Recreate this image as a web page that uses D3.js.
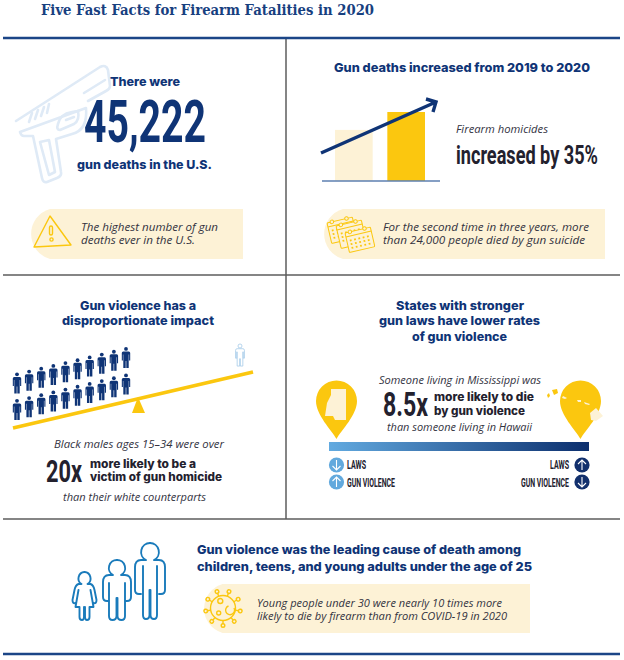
<!DOCTYPE html>
<html>
<head>
<meta charset="utf-8">
<script src="https://cdn.jsdelivr.net/npm/d3@7"></script>
<style>
  html, body { margin: 0; padding: 0; background: #fff; }
  svg { display: block; }
</style>
</head>
<body>
<div id="output"></div>
<script>
// values
const years = ["2019", "2020"];
const homicideIndex = [100, 135];      // 2020 is 35% above 2019
const blackMaleRows = [10, 10];        // people stacked on the low end of the seesaw
const whiteMales = [1];
const rateScale = ["Mississippi", "Hawaii"];
const rateArrows = [["down", "up"], ["up", "down"]];
const rateLabels = ["LAWS", "GUN VIOLENCE"];

const navy = "#0f3476", yellow = "#fbc70f", cream = "#fdf2d6", ink = "#23212e", grey = "#5c5c5c";
const head = "Inter, 'Open Sans', sans-serif";
const body = "'Open Sans', 'Noto Sans', sans-serif";
const cond = "Roboto, sans-serif";

const svg = d3.select("#output").append("svg")
    .attr("width", 624)
    .attr("height", 660)
    .attr("viewBox", [0, 0, 624, 660]);

// every label is fitted to the width it has in the reference
function label(x, y, str, w, opt) {
    return svg.append("text")
        .attr("x", x)
        .attr("y", y)
        .attr("textLength", w)
        .attr("lengthAdjust", "spacingAndGlyphs")
        .attr("font-family", opt.font)
        .attr("font-size", opt.size)
        .attr("font-weight", opt.weight || 400)
        .attr("font-style", opt.italic ? "italic" : "normal")
        .attr("fill", opt.fill || ink)
        .text(str);
}
const heading = (x, y, s, w) => label(x, y, s, w, {font: head, size: 12.3, weight: 800, fill: navy});
const boldInk = (x, y, s, w) => label(x, y, s, w, {font: head, size: 11.3, weight: 800, fill: ink});
const note = (x, y, s, w) => label(x, y, s, w, {font: body, size: 10.5, italic: true, fill: "#33333f"});
const big = (x, y, s, w, size, fill) => label(x, y, s, w, {font: cond, size: size, weight: 700, fill: fill || ink});

function callout(x, y, w, h) {
    const r = h / 2 + 1;
    svg.append("path")
        .attr("fill", cream)
        .attr("d", `M${x + r},${y}H${x + w}V${y + h}H${x + r}A${r},${r} 0 0 1 ${x + r},${y}Z`);
}

// frame
svg.append("g").attr("stroke", grey).attr("stroke-width", 1.5)
    .call(g => g.append("line").attr("x1", 286).attr("x2", 286).attr("y1", 38).attr("y2", 519))
    .call(g => g.append("line").attr("x1", 3).attr("x2", 620).attr("y1", 275).attr("y2", 275))
    .call(g => g.append("line").attr("x1", 3).attr("x2", 620).attr("y1", 519).attr("y2", 519));
svg.append("g").attr("stroke", "#1b4587").attr("stroke-width", 2.5)
    .call(g => g.append("line").attr("x1", 3).attr("x2", 620).attr("y1", 38).attr("y2", 38))
    .call(g => g.append("line").attr("x1", 3).attr("x2", 620).attr("y1", 654).attr("y2", 654));

label(41, 15, "Five Fast Facts for Firearm Fatalities in 2020", 333,
    {font: "'DejaVu Serif', serif", size: 14, weight: 700, fill: "#17407f"});

// panel 1: pistol outline behind the count
svg.append("g").attr("fill", "none").attr("stroke", "#dfeaf6").attr("stroke-width", 2.6)
    .attr("stroke-linejoin", "round").attr("stroke-linecap", "round")
    .call(g => g.append("path").attr("d", "M16,121L100,67Q106,64 108,70L110,86Q110,89 106,91L88,101M86,108Q88,130 72,134L56,139L61,172Q62,176 57,178L47,182Q43,183 42,178L33,136L24,136Q21,136 20,132Z"))
    .call(g => g.append("path").attr("d", "M40,142L49,175L55,172L49,140Z"))
    .call(g => g.append("path").attr("d", "M58,124Q60,114 72,112L78,111Q80,120 74,124L60,130Q56,130 58,124Z"))
    .call(g => g.append("path").attr("d", "M66,120L74,117"))
    .call(g => g.append("path").attr("d", "M84,93L105,80"))
    .call(g => g.append("path").attr("d", "M29,122L32,113M35,119L38,110M41,116L44,107M47,113L49,104"));

heading(110, 86, "There were", 70);
big(84, 142, "45,222", 122, 59, navy);
heading(77, 169, "gun deaths in the U.S.", 135);

callout(24, 209, 219, 50);
svg.append("g").attr("fill", "none").attr("stroke", yellow).attr("stroke-width", 1.4).attr("stroke-linejoin", "round")
    .call(g => g.append("path").attr("d", "M50,216L71,245L34,247Z"))
    .call(g => g.append("rect").attr("x", 49.5).attr("y", 226).attr("width", 3).attr("height", 9).attr("rx", 1.5))
    .call(g => g.append("circle").attr("cx", 51.5).attr("cy", 239.5).attr("r", 1.6));
note(81, 231, "The highest number of gun", 137);
note(81, 244, "deaths ever in the U.S.", 114);

// panel 2: bars from the two index values
heading(334, 72, "Gun deaths increased from 2019 to 2020", 256);

const xYear = d3.scaleBand().domain(years).range([335, 425]).paddingInner(0.28);
const yIndex = d3.scaleLinear().domain([0, d3.max(homicideIndex)]).range([181, 112]);
const barColor = d3.scaleOrdinal(years, [cream, yellow]);

svg.append("g").selectAll("rect")
    .data(years)
    .join("rect")
    .attr("x", d => xYear(d))
    .attr("y", (d, i) => yIndex(homicideIndex[i]))
    .attr("width", xYear.bandwidth())
    .attr("height", (d, i) => yIndex(0) - yIndex(homicideIndex[i]))
    .attr("fill", d => barColor(d));
svg.append("line").attr("x1", 322).attr("x2", 440).attr("y1", 181).attr("y2", 181)
    .attr("stroke", "#5d7fb0").attr("stroke-width", 1.5);
svg.append("path").attr("fill", "none").attr("stroke", navy).attr("stroke-width", 3.4)
    .attr("stroke-linejoin", "miter")
    .attr("d", "M321,153L436,102M426,99L436,102L433,112");

note(456, 133, "Firearm homicides", 92);
big(456, 164, "increased by 35%", 142, 26);

callout(317, 209, 288, 50);
// three overlapping calendars
const calendars = svg.append("g").attr("stroke", yellow).attr("fill", cream).attr("stroke-width", 1);
[[327, 223, 21], [336, 226, 23], [345, 233, 20]].forEach(c => {
    const g = calendars.append("g").attr("transform", `translate(${c[0]},${c[1]}) rotate(-13)`);
    g.append("rect").attr("width", 26).attr("height", c[2]).attr("rx", 1);
    g.append("line").attr("x1", 0).attr("x2", 26).attr("y1", 4).attr("y2", 4);
    g.selectAll("circle").data([5, 20]).join("circle")
        .attr("cx", d => d).attr("cy", 0).attr("r", 1.8);
    g.selectAll("rect.cell").data(d3.cross(d3.range(5), d3.range(3))).join("rect")
        .attr("class", "cell")
        .attr("x", d => 3 + d[0] * 4.4).attr("y", d => 7.5 + d[1] * 3.8)
        .attr("width", 1.8).attr("height", 1.8).attr("stroke", "none").attr("fill", yellow);
});
note(383, 231, "For the second time in three years, more", 206);
note(383, 244, "than 24,000 people died by gun suicide", 202);

// panel 3: seesaw
heading(80, 310, "Gun violence has a", 116);
heading(62, 325, "disproportionate impact", 152);

const xBeam = d3.scaleLinear().domain([13, 253]).range([428, 372]);  // height of the beam at x
svg.append("line").attr("x1", 13).attr("x2", 253).attr("y1", xBeam(13)).attr("y2", xBeam(253))
    .attr("stroke", yellow).attr("stroke-width", 3.6);
svg.append("path").attr("fill", yellow).attr("d", "M138,397L145,413H132Z");

function person(sel) {
    sel.append("circle").attr("cx", 0).attr("cy", 1.9).attr("r", 1.9);
    sel.append("path").attr("d", "M-4.2,6Q-4.2,4.5 -2.8,4.5H2.8Q4.2,4.5 4.2,6V13.5H3.1V7.5H2.7V21H0.3V14H-0.3V21H-2.7V7.5H-3.1V13.5H-4.2Z");
}
const xPerson = d3.scaleLinear().domain([0, blackMaleRows[0] - 1]).range([17, 126]);
const yRow = d3.scaleBand().domain(d3.range(blackMaleRows.length)).range([-53, 0]);
blackMaleRows.forEach((count, r) => {
    svg.append("g").attr("fill", navy).selectAll("g")
        .data(d3.range(count))
        .join("g")
        .attr("transform", d => `translate(${xPerson(d)},${xBeam(xPerson(d)) + yRow(r) - 1.6})`)
        .call(person);
});
svg.append("g").attr("fill", "#fff").attr("stroke", "#a9cdea").attr("stroke-width", 0.8)
    .selectAll("g").data(whiteMales).join("g")
    .attr("transform", "translate(240,344) scale(1.05)")
    .call(person);

note(54, 448, "Black males ages 15–34 were over", 170);
big(46, 482, "20x", 36, 31);
boldInk(90, 468, "more likely to be a", 106);
boldInk(90, 481, "victim of gun homicide", 132);
note(63, 501, "than their white counterparts", 143);

// panel 4
heading(396, 310, "States with stronger", 128);
heading(379, 325, "gun laws have lower rates", 161);
heading(412, 341, "of gun violence", 95);

const xRate = d3.scalePoint().domain(rateScale).range([336.5, 580.5]);
svg.append("g").attr("fill", yellow).selectAll("path")
    .data(rateScale)
    .join("path")
    .attr("transform", d => `translate(${xRate(d)},401)`)
    .attr("d", "M0,38C-5,29 -20.5,14 -20.5,0A20.5,20.5 0 0 1 20.5,0C20.5,14 5,29 0,38Z");
svg.append("path").attr("fill", cream)
    .attr("d", "M331,389L346,389L346,420L335,420L333,416L325,416L327,403L331,395Z");
svg.append("g").attr("fill", cream)
    .call(g => g.append("path").attr("d", "M590,413L596,408L603,416L596,421L591,420Z"))
    .call(g => g.append("path").attr("d", "M584,402L590,404L589,405L585,404Z"))
    .call(g => g.append("path").attr("d", "M577,400L581,400L581,402L578,402Z"))
    .call(g => g.append("path").attr("d", "M563,396L567,398L565,399L562,398Z"));
svg.append("g").attr("fill", yellow)
    .call(g => g.append("path").attr("d", "M547,395L549,393L550,396L548,398Z"))
    .call(g => g.append("path").attr("d", "M552,390L557,389L558,393L554,395Z"));

note(379, 384, "Someone living in Mississippi was", 162);
big(383, 416, "8.5x", 45, 33);
boldInk(434, 401, "more likely to die", 100);
boldInk(434, 415, "by gun violence", 91);
note(387, 431, "than someone living in Hawaii", 145);

const grad = svg.append("defs").append("linearGradient").attr("id", "rate-gradient");
grad.selectAll("stop").data(["#62aae0", "#0c2f6e"]).join("stop")
    .attr("offset", (d, i) => i)
    .attr("stop-color", d => d);
svg.append("rect").attr("x", 329).attr("y", 442).attr("width", 260).attr("height", 9)
    .attr("fill", "url(#rate-gradient)");

const yRateRow = d3.scalePoint().domain(rateLabels).range([465, 482]);
const arrowPath = {
    up: "M0,5V-5M-4,-1L0,-5L4,-1",
    down: "M0,-5V5M-4,1L0,5L4,1"
};
rateArrows.forEach((row, side) => {
    const cx = [336.5, 582][side], fill = ["#62a9dd", "#12306d"][side];
    rateLabels.forEach((name, i) => {
        const g = svg.append("g").attr("transform", `translate(${cx},${yRateRow(name)})`);
        g.append("circle").attr("r", 7.6).attr("fill", fill);
        g.append("path").attr("d", arrowPath[row[i]]).attr("fill", "none").attr("stroke", "#fff").attr("stroke-width", 1.1);
    });
});
big(347, 469, "LAWS", 19, 12);
big(347, 487, "GUN VIOLENCE", 48, 12);
big(550, 469, "LAWS", 19, 12);
big(521, 487, "GUN VIOLENCE", 48, 12);

// panel 5: family of three, each figure drawn as a half and mirrored
const family = svg.append("g").attr("fill", "none").attr("stroke", "#1a7bbb").attr("stroke-width", 1.9)
    .attr("stroke-linecap", "round").attr("stroke-linejoin", "round");
[
    [84.5, "M0,572A6.5,6.5 0 0 1 3,584H6Q9,585 10,590L12,600Q12,604 9,603M6,590L9,607H5V617Q5,620 2.5,620Q0.5,620 0.5,617V607"],
    [117, "M0,560A8,8 0 0 1 4,575H8Q14,575 14,582V597Q14,601 10,601H9M8,583V616Q8,620 4.5,620Q0.5,620 0.5,616V598"],
    [150, "M0,543A9,9 0 0 1 4,560H9Q15,560 15,567V590Q15,594 11,594H9M7,566V615Q7,619 4,619Q0.5,619 0.5,615V590"]
].forEach(f => {
    [1, -1].forEach(side => {
        family.append("path")
            .attr("transform", `translate(${f[0]},0) scale(${side},1)`)
            .attr("d", f[1]);
    });
});

heading(197, 554, "Gun violence was the leading cause of death among", 324);
heading(197, 571, "children, teens, and young adults under the age of 25", 335);

callout(197, 584, 333, 49);
// virus
const virus = svg.append("g").attr("transform", "translate(223,608)").attr("fill", "none")
    .attr("stroke", yellow).attr("stroke-width", 1.4);
virus.append("circle").attr("r", 12.5);
virus.selectAll("g").data(d3.range(9)).join("g")
    .attr("transform", d => `rotate(${d * 40 + 10})`)
    .call(g => g.append("line").attr("x1", 12.5).attr("x2", 16))
    .call(g => g.append("circle").attr("cx", 17.5).attr("r", 1.8));
virus.append("circle").attr("cx", -2.7).attr("cy", -7).attr("r", 2.5);
virus.append("circle").attr("cx", -4.3).attr("cy", 5).attr("r", 2);
virus.append("path").attr("d", "M11,0A4.5,4.5 0 1 1 5.5,-2");

note(257, 607, "Young people under 30 were nearly 10 times more", 245);
note(257, 620, "likely to die by firearm than from COVID-19 in 2020", 250);
</script>
</body>
</html>
